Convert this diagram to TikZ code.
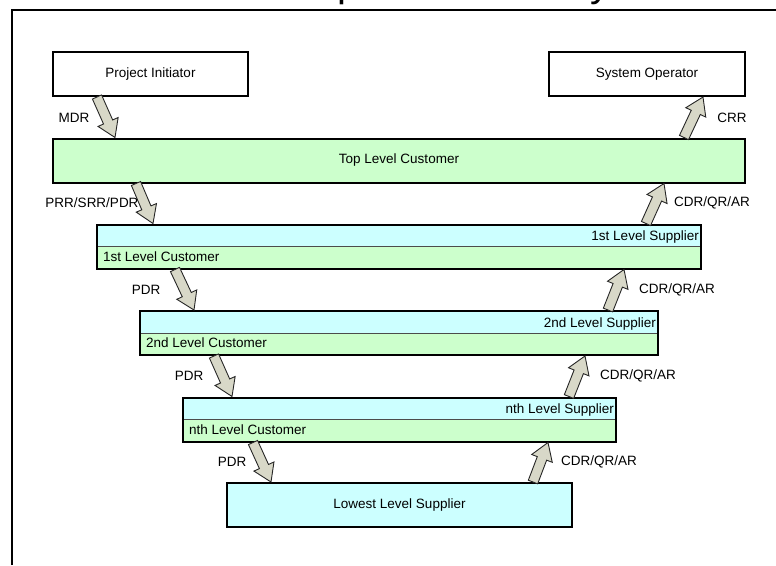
\documentclass[tikz,border=0pt]{standalone}
\usepackage{fontspec}
\setmainfont{Liberation Sans}
\usetikzlibrary{calc}
\definecolor{custgreen}{RGB}{204,255,204}
\definecolor{suppcyan}{RGB}{204,255,255}
\definecolor{arrowgray}{RGB}{216,216,200}
\tikzset{
  box/.style={draw, line width=2pt, minimum height=44, inner sep=0pt,
    font=\fontsize{13.5}{16}\selectfont},
  splitbox/.style={box, fill=custgreen, path picture={
    \fill[suppcyan] (path picture bounding box.north west) rectangle (path picture bounding box.east);
    \draw[line width=0.8pt, black!70] (path picture bounding box.west) -- (path picture bounding box.east);}},
  lbl/.style={inner sep=0pt, font=\fontsize{13.5}{16}\selectfont},
  fatarrow/.style={draw=black!85, line width=0.9pt, fill=arrowgray, line join=miter}
}
% block arrow from #1 (tail) to #2 (tip)
\newcommand\fatarrow[2]{%
  \coordinate (hb) at ($(#2)!17pt!(#1)$);
  \draw[fatarrow] ($(#1)!5pt!90:(#2)$) -- ($(hb)!5pt!90:(#2)$) -- ($(hb)!11pt!90:(#2)$)
    -- (#2) -- ($(hb)!11pt!-90:(#2)$) -- ($(hb)!5pt!-90:(#2)$) -- ($(#1)!5pt!-90:(#2)$) -- cycle;}
\begin{document}
\begin{tikzpicture}[x=1pt,y=-1pt]
\useasboundingbox (0,0) rectangle (776,565);
\node[anchor=base west, inner sep=0pt, font=\fontsize{40}{48}\selectfont] (title) at (213,-3.5)
  {Development\hspace{17pt}Life\hspace{31pt}Cycle};
\draw[line width=2pt] (12,565) -- (12,10) -- (776,10);
% boxes
\node[box, minimum width=195] (pi) at (150.5,74) {Project Initiator};
\node[box, minimum width=196] (so) at (647,74) {System Operator};
\node[box, fill=custgreen, minimum width=692] (top) at (399,160.5) {Top Level Customer};
\node[splitbox, minimum width=604] (l1) at (399,246.5) {};
\node[splitbox, minimum width=518] (l2) at (399,333) {};
\node[splitbox, minimum width=433] (ln) at (399.5,419.5) {};
\node[box, fill=suppcyan, minimum width=345] (low) at (399.5,505) {Lowest Level Supplier};
% level texts
\node[lbl, anchor=east] (l1s) at ($(l1.east)+(-3,-9)$) {1st Level Supplier};
\node[lbl, anchor=west] (l1c) at ($(l1.west)+(7,10)$) {1st Level Customer};
\node[lbl, anchor=east] (l2s) at ($(l2.east)+(-3,-9)$) {2nd Level Supplier};
\node[lbl, anchor=west] (l2c) at ($(l2.west)+(7,10)$) {2nd Level Customer};
\node[lbl, anchor=east] (lns) at ($(ln.east)+(-3,-9)$) {nth Level Supplier};
\node[lbl, anchor=west] (lnc) at ($(ln.west)+(7,10)$) {nth Level Customer};
% arrow ends
\coordinate (d0a) at ($(pi.south west)+(45,0)$);
\coordinate (d0b) at ($(top.north west)+(63,0)$);
\coordinate (d1a) at ($(top.south west)+(84,0)$);
\coordinate (d1b) at ($(l1.north west)+(57,0)$);
\coordinate (d2a) at ($(l1.south west)+(79,0)$);
\coordinate (d2b) at ($(l2.north west)+(55,0)$);
\coordinate (d3a) at ($(l2.south west)+(75,0)$);
\coordinate (d3b) at ($(ln.north west)+(50,0)$);
\coordinate (d4a) at ($(ln.south west)+(71,0)$);
\coordinate (d4b) at ($(low.north west)+(45,0)$);
\coordinate (u0a) at ($(top.north east)+(-62,0)$);
\coordinate (u0b) at ($(so.south east)+(-43,0)$);
\coordinate (u1a) at ($(l1.north east)+(-56,0)$);
\coordinate (u1b) at ($(top.south east)+(-82,0)$);
\coordinate (u2a) at ($(l2.north east)+(-51,0)$);
\coordinate (u2b) at ($(l1.south east)+(-78,0)$);
\coordinate (u3a) at ($(ln.north east)+(-48,0)$);
\coordinate (u3b) at ($(l2.south east)+(-74,0)$);
\coordinate (u4a) at ($(low.north east)+(-40,0)$);
\coordinate (u4b) at ($(ln.south east)+(-69,0)$);
\foreach \k in {0,...,4} {
  \fatarrow{d\k a}{d\k b}
  \fatarrow{u\k a}{u\k b}
}
% arrow labels
\node[lbl] (mdr) at (74,118) {MDR};
\node[lbl] (prr) at (92,203) {PRR/SRR/PDR};
\node[lbl] (pdr1) at (146,290) {PDR};
\node[lbl] (pdr2) at (189,376) {PDR};
\node[lbl] (pdr3) at (232,462) {PDR};
\node[lbl] (crr) at (732,118) {CRR};
\node[lbl] (cdr1) at (712,203) {CDR/QR/AR};
\node[lbl] (cdr2) at (677,290) {CDR/QR/AR};
\node[lbl] (cdr3) at (638,376) {CDR/QR/AR};
\node[lbl] (cdr4) at (599,462) {CDR/QR/AR};
\end{tikzpicture}
\end{document}
